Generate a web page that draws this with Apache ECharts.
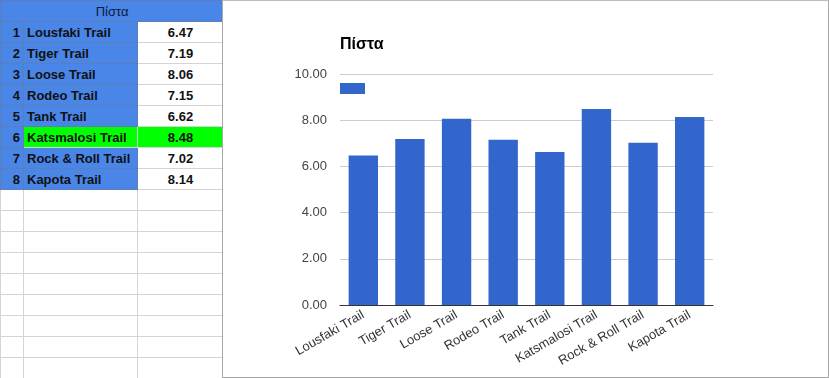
<!DOCTYPE html>
<html>
<head>
<meta charset="utf-8">
<script src="https://cdn.jsdelivr.net/npm/echarts@6/dist/echarts.min.js"></script>
<style>
  html, body { margin:0; padding:0; width:829px; height:378px; overflow:hidden; background:#fff; font-family: Arial, "Liberation Sans", sans-serif; }
  #sheet { position:absolute; left:0; top:0; width:223px; height:378px; overflow:hidden; }
  #sheet table { border-collapse:collapse; table-layout:fixed; width:223px; }
  #sheet td { height:21px; padding:0 3px; border:1px solid #d4d4d4; font-size:13px; font-weight:bold; color:#111; white-space:nowrap; overflow:hidden; box-sizing:border-box; }
  #sheet td.b { background:#4a86e8; border-color:#5c7fb8; }
  #sheet td.num { text-align:right; }
  #sheet td.val { text-align:center; background:#fff; }
  #sheet td.g { background:#00ff00; }
  #sheet td.hdr { text-align:center; font-weight:normal; color:#0b1a3a; }
  #frame { position:absolute; left:222px; top:0px; width:605px; height:376px; border:1px solid #a8a8a8; border-top-color:#bdbdbd; background:#fff; box-sizing:content-box; }
  #chart { position:absolute; left:0; top:0; width:829px; height:378px; }
</style>
</head>
<body>
<div id="sheet"></div>
<div id="frame"></div>
<div id="chart"></div>
<script>
const title = 'Πίστα';
const categories = ['Lousfaki Trail','Tiger Trail','Loose Trail','Rodeo Trail','Tank Trail','Katsmalosi Trail','Rock & Roll Trail','Kapota Trail'];
const values = [6.47, 7.19, 8.06, 7.15, 6.62, 8.48, 7.02, 8.14];
const highlightIndex = 5;
const yTicks = [0, 2, 4, 6, 8, 10];

// spreadsheet table
let html = '<table><colgroup><col style="width:23px"><col style="width:114px"><col style="width:86px"></colgroup>';
html += '<tr><td class="b hdr" colspan="3">' + title + '</td></tr>';
categories.forEach((c, i) => {
  const g = i === highlightIndex;
  html += '<tr><td class="b num">' + (i + 1) + '</td><td class="' + (g ? 'g' : 'b') + '">' + c.replace('&', '&amp;') + '</td><td class="val' + (g ? ' g' : '') + '">' + values[i].toFixed(2) + '</td></tr>';
});
for (let k = 0; k < 10; k++) html += '<tr><td></td><td></td><td></td></tr>';
html += '</table>';
document.getElementById('sheet').innerHTML = html;

const chart = echarts.init(document.getElementById('chart'), null, { renderer: 'canvas' });
chart.setOption({
  animation: false,
  backgroundColor: 'transparent',
  title: {
    text: title, left: 340, top: 37, padding: 0,
    textStyle: { fontFamily: 'Arial', fontSize: 16, fontWeight: 'bold', color: '#000' }
  },
  legend: {
    left: 340, top: 83, padding: 0, itemWidth: 25, itemHeight: 11, icon: 'rect',
    data: [' '], textStyle: { fontSize: 1 }, itemGap: 0
  },
  grid: { left: 340, right: 116, top: 74, bottom: 73 },
  xAxis: {
    type: 'category', data: categories,
    axisLine: { lineStyle: { color: '#333', width: 1 } },
    axisTick: { show: false },
    axisLabel: { rotate: 30, margin: 9, color: '#333', fontFamily: 'Arial', fontSize: 13, interval: 0 }
  },
  yAxis: {
    type: 'value', min: yTicks[0], max: yTicks[yTicks.length - 1], interval: 2,
    axisLine: { show: false }, axisTick: { show: false },
    splitLine: { lineStyle: { color: '#cccccc' } },
    axisLabel: { color: '#444', fontFamily: 'Arial', fontSize: 13, margin: 13, formatter: v => v.toFixed(2) }
  },
  series: [{
    name: ' ', type: 'bar', data: values, barCategoryGap: '37%',
    itemStyle: { color: '#3366cc' }
  }]
});
</script>
</body>
</html>
